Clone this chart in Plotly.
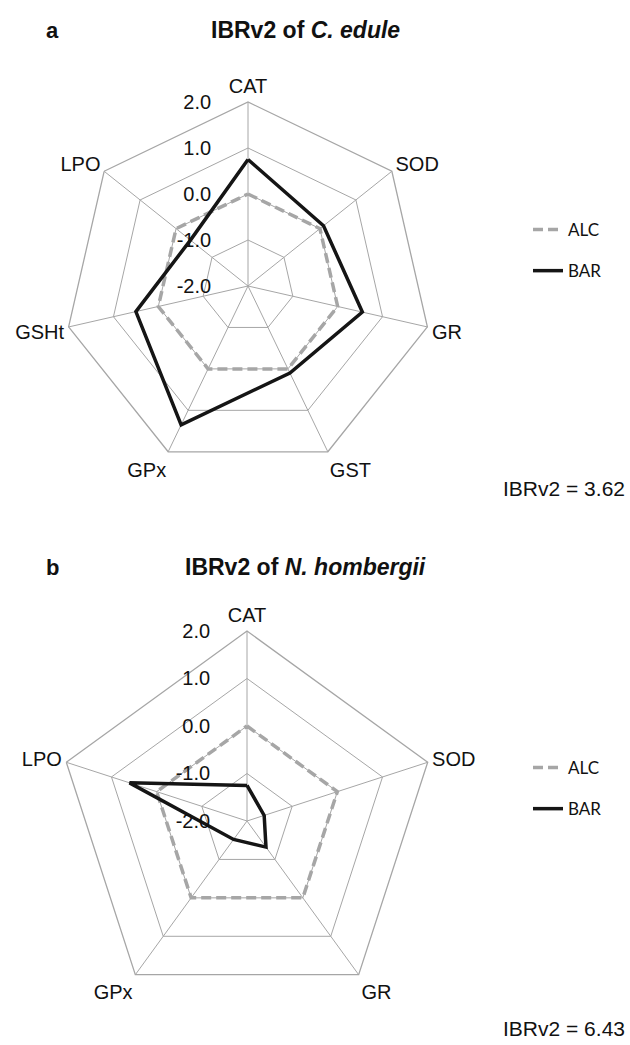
import plotly.graph_objects as go

# ---- data ----
cats_a = ["CAT", "SOD", "GR", "GST", "GPx", "GSHt", "LPO"]
alc_a = [0.0, 0.0, 0.0, 0.0, 0.0, 0.0, 0.0]
bar_a = [0.75, 0.1, 0.55, 0.1, 1.35, 0.5, -0.4]

cats_b = ["CAT", "SOD", "GR", "GPx", "LPO"]
alc_b = [0.0, 0.0, 0.0, 0.0, 0.0]
bar_b = [-1.25, -1.62, -1.32, -1.52, 0.6]

tick_vals = [-2, -1, 0, 1, 2]
tick_text = ["-2.0", "-1.0", "0.0", "1.0", "2.0"]
ibr_a = 3.62
ibr_b = 6.43

W, H = 630, 1045
GRID = "#a6a6a6"
FONT = "Liberation Sans, Arial, sans-serif"
PAD = "\u00a0" * 6  # pushes the centred radial labels to the left of the axis


def close(seq):
    return list(seq) + [seq[0]]


fig = go.Figure()
for name, vals, cats, sub, leg, col, dash in [
    ("ALC", alc_a, cats_a, "polar", "legend", "#a6a6a6", "10px,5px"),
    ("BAR", bar_a, cats_a, "polar", "legend", "#151515", "solid"),
    ("ALC", alc_b, cats_b, "polar2", "legend2", "#a6a6a6", "10px,5px"),
    ("BAR", bar_b, cats_b, "polar2", "legend2", "#151515", "solid"),
]:
    fig.add_trace(go.Scatterpolar(
        r=close(vals), theta=close(cats), name=name, mode="lines",
        line=dict(color=col, width=3.5, dash=dash),
        subplot=sub, legend=leg, legendgroup=sub + name,
    ))


def polar_cfg(cx, cy, R):
    return dict(
        domain=dict(x=[(cx - R) / W, (cx + R) / W],
                    y=[1 - (cy + R) / H, 1 - (cy - R) / H]),
        gridshape="linear",
        bgcolor="white",
        radialaxis=dict(range=[-2, 2], tickvals=tick_vals,
                        ticktext=[t + PAD for t in tick_text],
                        angle=90, tickangle=90, side="counterclockwise",
                        showline=False, gridcolor=GRID, gridwidth=1.3,
                        ticks="", tickfont=dict(family=FONT, size=20, color="#111")),
        angularaxis=dict(rotation=90, direction="clockwise", ticks="",
                         showline=True, linecolor=GRID, linewidth=1.3,
                         gridcolor=GRID, gridwidth=1.3,
                         tickfont=dict(family=FONT, size=20, color="#111")),
    )


fig.update_layout(
    width=W, height=H, margin=dict(l=0, r=0, t=0, b=0),
    paper_bgcolor="white", plot_bgcolor="white",
    polar=polar_cfg(248, 286, 184),
    polar2=polar_cfg(247, 821, 190),
    legend=dict(x=528 / W, y=1 - 212 / H, xanchor="left", yanchor="top",
                font=dict(family="Lato, sans-serif", size=17, color="#111"),
                tracegroupgap=16, bgcolor="rgba(0,0,0,0)"),
    legend2=dict(x=528 / W, y=1 - 750 / H, xanchor="left", yanchor="top",
                 font=dict(family="Lato, sans-serif", size=17, color="#111"),
                 tracegroupgap=16, bgcolor="rgba(0,0,0,0)"),
    showlegend=True,
)

ann = [
    dict(text="<b>a</b>", x=52 / W, y=1 - 30 / H, size=22),
    dict(text="<b>IBRv2 of <i>C. edule</i></b>", x=305 / W, y=1 - 30 / H, size=23),
    dict(text="<b>b</b>", x=52 / W, y=1 - 567 / H, size=22),
    dict(text="<b>IBRv2 of <i>N. hombergii</i></b>", x=305 / W, y=1 - 567 / H, size=23),
]
for a in ann:
    fig.add_annotation(text=a["text"], x=a["x"], y=a["y"], xref="paper", yref="paper",
                       showarrow=False, xanchor="center", yanchor="middle",
                       font=dict(family=FONT, size=a["size"], color="#111"))
for val, yy in [(ibr_a, 488), (ibr_b, 1028)]:
    fig.add_annotation(text=f"IBRv2 = {val:.2f}", x=627 / W, y=1 - yy / H,
                       xref="paper", yref="paper", showarrow=False,
                       xanchor="right", yanchor="middle",
                       font=dict(family=FONT, size=21, color="#111"))

fig.write_html("out.html", config={"displayModeBar": False},
               post_script="document.body.style.margin='0';document.body.style.overflow='hidden';")
